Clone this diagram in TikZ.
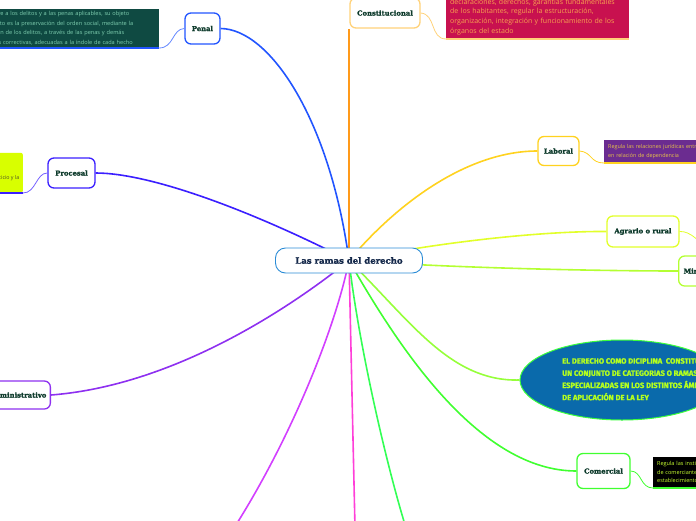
\documentclass[tikz,border=0pt]{standalone}
\usepackage{fontspec}
\setmainfont{Open Sans}
\newfontfamily\titlefont[BoldFeatures={FakeBold=1.6}]{DejaVu Serif}
\newfontfamily\capsfont[BoldFeatures={FakeBold=1.2}]{Fira Sans}
\usetikzlibrary{shapes.geometric,backgrounds}

\definecolor{rootc}{HTML}{2B8CD6}
\definecolor{roottext}{HTML}{14284A}
\definecolor{labeltext}{HTML}{0E3B2C}
\definecolor{penalc}{HTML}{2255FF}
\definecolor{procesalc}{HTML}{3B1FFF}
\definecolor{adminc}{HTML}{8E30F0}
\definecolor{constc}{HTML}{FF9A1A}
\definecolor{constborde}{HTML}{FFD27A}
\definecolor{laboralc}{HTML}{FFD21F}
\definecolor{agrarioc}{HTML}{E2FF2A}
\definecolor{mineroc}{HTML}{B4FF32}
\definecolor{elipsec}{HTML}{96FF3A}
\definecolor{elipseborde}{HTML}{3CFF3C}
\definecolor{comercialc}{HTML}{40FF30}
\definecolor{verdec}{HTML}{33FF55}
\definecolor{rosac}{HTML}{FF3FD8}
\definecolor{magentac}{HTML}{D23FFF}
\definecolor{penalfill}{HTML}{0F4A42}
\definecolor{penaltext}{HTML}{7FCFB0}
\definecolor{constfill}{HTML}{C8114F}
\definecolor{consttext}{HTML}{F7A24F}
\definecolor{laboralfill}{HTML}{6B2C90}
\definecolor{laboraltext}{HTML}{E6C14A}
\definecolor{comercialtext}{HTML}{C8FF32}
\definecolor{procesalfill}{HTML}{D8FF00}
\definecolor{procesaltext}{HTML}{4B4B2A}
\definecolor{elipsefill}{HTML}{0A6AAB}
\definecolor{elipsetext}{HTML}{B4FF1E}

\begin{document}
\begin{tikzpicture}[x=1pt, y=-1pt,
  raiz/.style={draw=rootc, fill=white, line width=0.9pt, rounded corners=10pt,
    minimum width=147pt, minimum height=25pt, text=roottext,
    font=\titlefont\bfseries\fontsize{8.5}{10}\selectfont},
  rama/.style={draw, fill=white, line width=1.3pt, rounded corners=6pt,
    inner xsep=4pt, text=labeltext,
    font=\titlefont\bfseries\fontsize{6.8}{8}\selectfont},
  nota/.style={inner xsep=4pt, inner ysep=2pt, align=left},
  tallo/.style={line width=1.6pt},
  enlace/.style={line width=0.8pt}]
  \useasboundingbox (0,0) rectangle (696,520);
  \clip (0,0) rectangle (696,520);

  % Central node
  \node[raiz] (root) at (349,260.5) {Las ramas del derecho};

  % Branches
  \node[rama, draw=penalc, minimum width=35pt, minimum height=31pt] (penal) at (202.5,28.5) {Penal};
  \node[rama, draw=procesalc, minimum width=47pt, minimum height=30pt] (procesal) at (71.5,173) {Procesal};
  \node[rama, draw=adminc, minimum height=28pt, anchor=east] (admin) at (51,395) {Administrativo};
  \node[rama, draw=constborde, minimum width=70pt, minimum height=30pt] (const) at (385,13) {Constitucional};
  \node[rama, draw=laboralc, minimum width=41pt, minimum height=29pt] (laboral) at (558.5,151) {Laboral};
  \node[rama, draw=agrarioc, minimum width=72pt, minimum height=31pt] (agrario) at (643,231.5) {Agrario o rural};
  \node[rama, draw=mineroc, inner xsep=5pt, minimum height=30pt, anchor=west] (minero) at (678,271) {Minero};
  \node[rama, draw=comercialc, minimum width=53pt, minimum height=35pt] (comercial) at (603.5,471) {Comercial};

  % Ellipse
  \node[ellipse, draw=elipseborde, fill=elipsefill, line width=1pt,
    minimum width=204pt, minimum height=80pt] (elipse) at (622,380) {};
  \node[anchor=north west, inner sep=0pt, align=left, text=elipsetext,
    font=\capsfont\bfseries\fontsize{7.6}{12.2}\selectfont] (elipsetexto) at (562,358)
    {EL DERECHO COMO DICIPLINA \ CONSTITUYE\\UN CONJUNTO DE CATEGORIAS O RAMAS\\ESPECIALIZADAS EN LOS DISTINTOS ÁMBITOS\\DE APLICACIÓN DE LA LEY};

  % Notes
  \node[nota, fill=penalfill, text=penaltext, text width=176pt, minimum height=39pt,
    anchor=south east, font=\fontsize{5.6}{9.7}\selectfont] (penalnota) at (159,48)
    {se refiere a los delitos y a las penas aplicables, su objeto\\inmediato es la preservación del orden social, mediante la\\represión de los delitos, a través de las penas y demás\\medidas correctivas, adecuadas a la índole de cada hecho};
  \node[nota, fill=constfill, text=consttext, text width=175pt, minimum height=44pt,
    anchor=south west, font=\fontsize{7}{9.6}\selectfont] (constnota) at (446,39)
    {declaraciones, derechos, garantías fundamentales\\de los habitantes, regular la estructuración,\\organización, integración y funcionamiento de los\\órganos del estado};
  \node[nota, fill=laboralfill, text=laboraltext, text width=130pt, minimum height=23pt,
    anchor=south west, font=\fontsize{5.4}{9}\selectfont] (laboralnota) at (604,163)
    {Regula las relaciones jurídicas entre\\en relación de dependencia};
  \node[nota, fill=black, text=comercialtext, text width=90pt, minimum height=31pt,
    anchor=south west, font=\fontsize{5.5}{8.5}\selectfont] (comercialnota) at (653,488)
    {Regula las instituciones\\de comerciantes y\\establecimientos};
  \node[fill=procesalfill, minimum width=80pt, minimum height=40pt, anchor=south east,
    rounded corners=2pt] (procesalnota) at (23,193) {};
  \node[anchor=east, inner sep=0pt, text=procesaltext, font=\fontsize{5.3}{7}\selectfont]
    (procesaltexto) at (19.5,178) {del ejercicio y la};

  % Note bottom edges
  \draw[penalc, line width=1.5pt] (penalnota.south west) -- (penalnota.south east);
  \draw[constborde, line width=1.5pt] (constnota.south west) -- (constnota.south east);
  \draw[laboralc, line width=1.5pt] (laboralnota.south west) -- (laboralnota.south east);
  \draw[comercialc, line width=1.5pt] (comercialnota.south west) -- (comercialnota.south east);
  \draw[procesalc, line width=1.5pt] (procesalnota.south west) -- (procesalnota.south east);

  % Note links
  \draw[enlace, penalc!70] (penal.west) .. controls (172,29) and (174,48) .. (penalnota.south east);
  \draw[enlace, procesalc!70] (procesal.west) .. controls (36,173) and (36,193) .. (procesalnota.south east);
  \draw[enlace, constborde] (const.east) .. controls (436,14) and (430,39) .. (constnota.south west);
  \draw[enlace, laboralc] (laboral.east) .. controls (592,152) and (590,163) .. (laboralnota.south west);
  \draw[enlace, comercialc] (comercial.east) .. controls (642,471) and (640,488) .. (comercialnota.south west);
  \coordinate (agrariofin) at (716,262);
  \draw[enlace, agrarioc] (agrario.east) .. controls (690,231) and (700,240) .. (agrariofin);

  % Main branch lines
  \begin{scope}[on background layer]
    \clip (0,0) rectangle (696,520);
    \coordinate (magentafin) at (234,528);
    \coordinate (rosafin) at (355,528);
    \coordinate (verdefin) at (406,528);
    \draw[tallo, penalc] (root.center) .. controls (330,120) and (270,29) .. (penal.east);
    \draw[tallo, procesalc] (root.center) .. controls (250,210) and (150,173) .. (procesal.east);
    \draw[tallo, adminc] (root.center) .. controls (300,300) and (180,385) .. (admin.east);
    \draw[tallo, magentac] (root.center) .. controls (335,330) and (290,440) .. (magentafin);
    \draw[tallo, rosac] (root.center) -- (rosafin);
    \draw[tallo, verdec] (root.center) .. controls (358,340) and (385,460) .. (verdefin);
    \draw[tallo, comercialc] (root.center) .. controls (400,350) and (480,471) .. (comercial.west);
    \draw[tallo, elipsec] (root.center) .. controls (410,320) and (450,382) .. (elipse.west);
    \draw[tallo, mineroc] (root.center) .. controls (450,268) and (600,271) .. (minero.west);
    \draw[tallo, agrarioc] (root.center) .. controls (450,240) and (550,231) .. (agrario.west);
    \draw[tallo, laboralc] (root.center) .. controls (400,200) and (470,151) .. (laboral.west);
    \draw[tallo, constc] (root.center) -- (root.center |- const.south);
  \end{scope}
\end{tikzpicture}
\end{document}
